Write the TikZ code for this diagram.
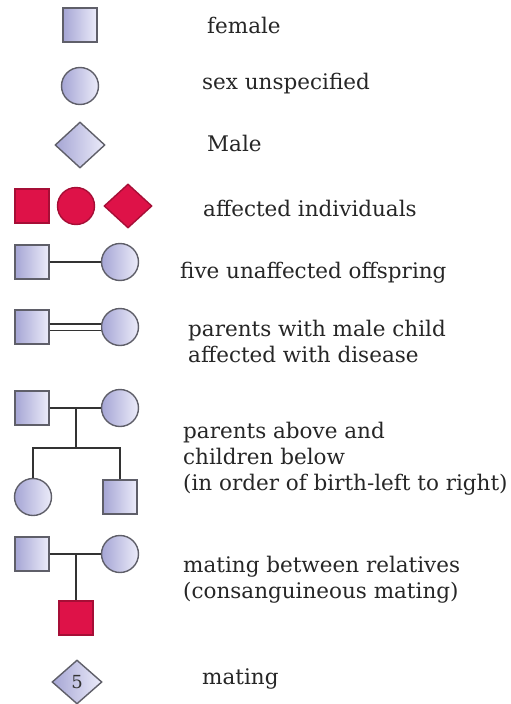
\documentclass[tikz,border=0pt]{standalone}
\usepackage{fontspec}
\setmainfont{DejaVu Serif}
\usepackage{tikz}
\usetikzlibrary{calc,shapes.geometric}

\definecolor{lavdark}{RGB}{165,165,212}
\definecolor{lavlight}{RGB}{236,236,250}
\definecolor{crimson}{RGB}{222,18,72}
\definecolor{edgegray}{RGB}{95,95,105}

\begin{document}
\begin{tikzpicture}[x=1pt,y=-1pt,
  sqbox/.style={rectangle,minimum size=34pt,inner sep=0pt,line width=1.4pt},
  roundbox/.style={circle,minimum size=37pt,inner sep=0pt,line width=1.4pt},
  diabox/.style={diamond,minimum width=50pt,minimum height=46pt,inner sep=0pt,line width=1.4pt},
  lav/.style={draw=edgegray,left color=lavdark,right color=lavlight},
  hit/.style={draw=crimson!75!black,fill=crimson},
  legend/.style={anchor=west,align=left,text=black!85,inner sep=0pt,font=\fontsize{21.5}{26}\selectfont},
  link/.style={draw=black!80,line width=1.3pt}]
\useasboundingbox (0,0) rectangle (511,704);

% Single symbols
\node[sqbox,lav] (fem) at (80,25) {};
\node[roundbox,lav] (unsp) at (80,86) {};
\node[diabox,lav] (mal) at (80,145) {};
\node[legend] (tfem) at (207,25) {female};
\node[legend] (tunsp) at (202,84) {sex unspecified};
\node[legend] (tmal) at (207,143) {Male};

% Affected
\node[sqbox,hit] (afs) at (32,206) {};
\node[roundbox,hit] (afc) at (76,206) {};
\node[diabox,hit,minimum width=48pt,minimum height=44pt] (afd) at (128,206) {};
\node[legend] (taf) at (203,208) {affected individuals};

% Unaffected offspring
\node[sqbox,lav] (s5) at (32,262) {};
\node[roundbox,lav] (c5) at (120,262) {};
\draw[link] (s5) -- (c5);
\node[legend] (t5) at (180,273) {five unaffected offspring};

% Double line
\node[sqbox,lav] (s6) at (32,327) {};
\node[roundbox,lav] (c6) at (120,327) {};
\draw[link,double=white,double distance=5pt,line width=1.2pt] (s6) -- (c6);
\node[legend] (t6) at (188,341) {parents with male child\\affected with disease};

% Parents and children
\node[sqbox,lav] (s7) at (32,408) {};
\node[roundbox,lav] (c7) at (120,408) {};
\node[roundbox,lav] (k1) at (33,497) {};
\node[sqbox,lav] (k2) at (120,497) {};
\draw[link] (s7) -- (c7);
\coordinate (j7) at ($(s7)!0.5!(c7)$);
\draw[link] (j7) -- ++(0,40) coordinate (b7);
\draw[link] (k1.north) |- (b7) -| (k2.north);
\node[legend] (t7) at (183,459) {parents above and\\children below\\(in order of birth-left to right)};

% Consanguineous
\node[sqbox,lav] (s8) at (32,554) {};
\node[roundbox,lav] (c8) at (120,554) {};
\draw[link] (s8) -- (c8);
\coordinate (j8) at ($(s8)!0.5!(c8)$);
\node[sqbox,hit] (r8) at ($(j8)+(0,64)$) {};
\draw[link] (j8) -- (r8.north);
\node[legend] (t8) at (183,580) {mating between relatives\\(consanguineous mating)};

% Numbered
\node[diabox,lav,minimum width=50pt,minimum height=44pt,font=\fontsize{18}{18}\selectfont,text=black!80] (d5) at (77,682) {5};
\node[legend] (t9) at (202,679) {mating};
\end{tikzpicture}
\end{document}
